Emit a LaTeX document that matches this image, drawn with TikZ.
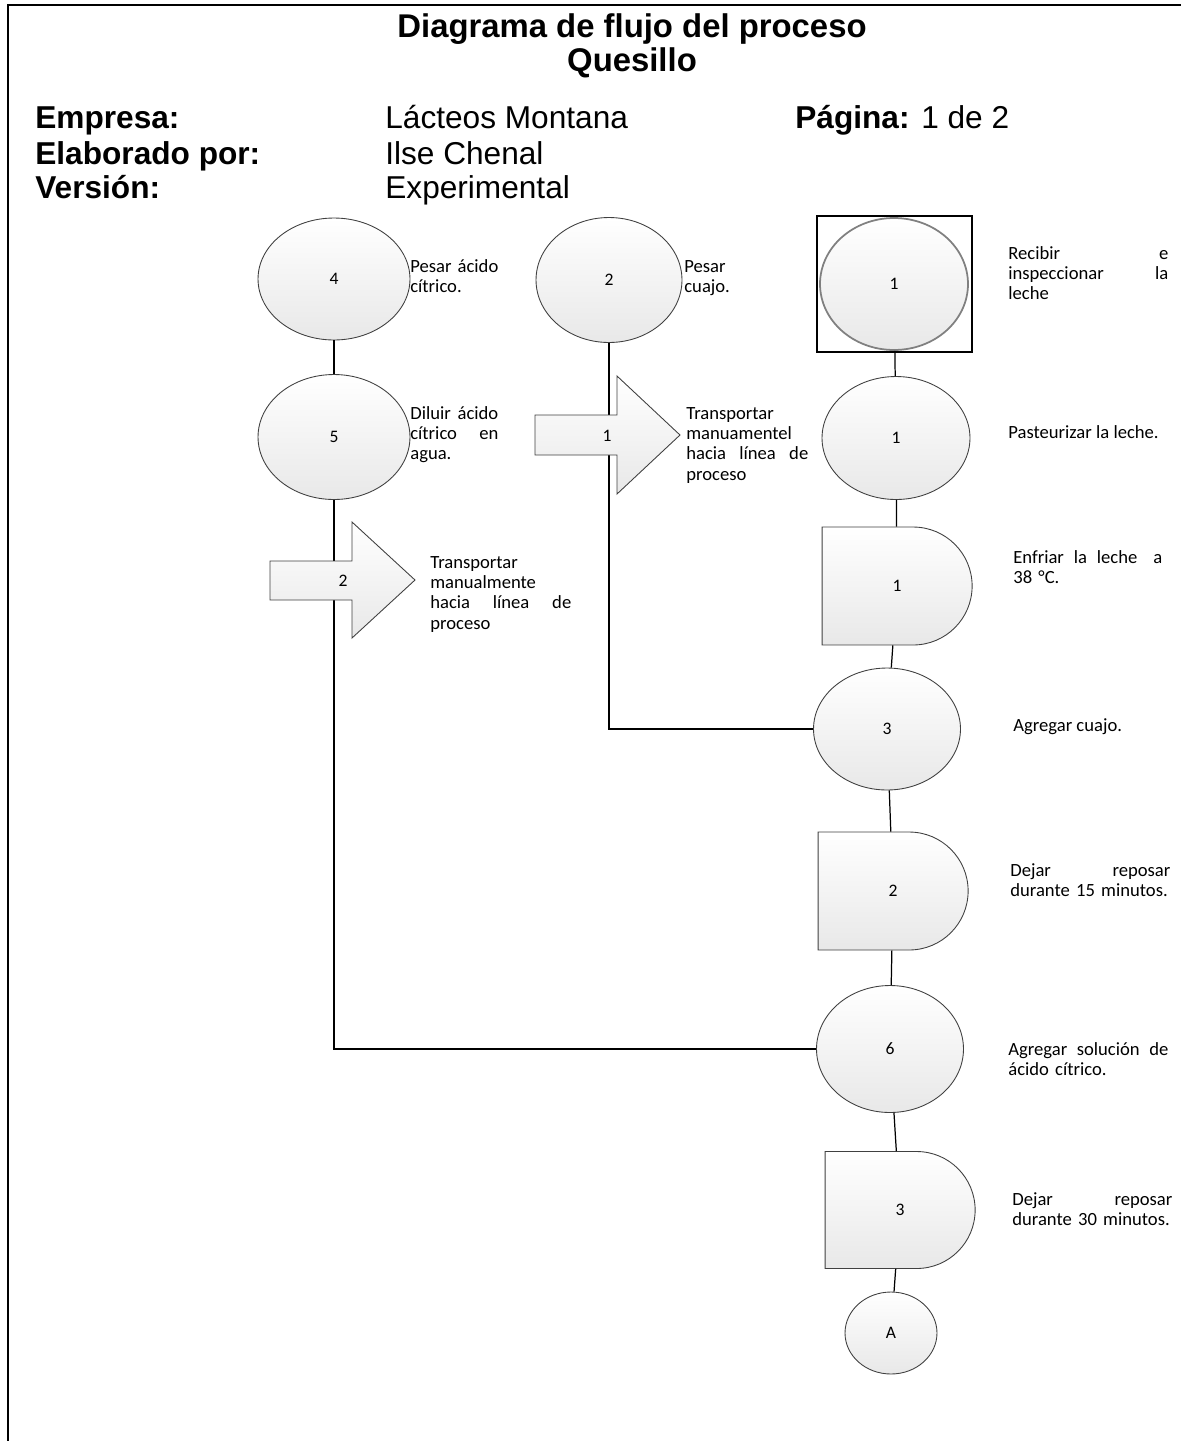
\documentclass[tikz,border=0pt]{standalone}
\usepackage{fontspec}
\setmainfont{Carlito}
\newfontfamily\hdrfont{Liberation Sans}
\usetikzlibrary{shapes.geometric,shapes.misc}
\newcommand{\jl}[1]{\leavevmode\hbox to \hsize{#1}}
\hyphenpenalty=10000

\begin{document}
\begin{tikzpicture}[x=0.02cm,y=-0.02cm,
  hdr/.style={anchor=base west,inner sep=0pt,font=\hdrfont\fontsize{18}{20}\selectfont},
  lbl/.style={anchor=base west,inner sep=0pt,align=left,font=\fontsize{10.6}{11.6}\selectfont},
  opbox/.style={ellipse,draw=black!75,line width=0.5pt,top color=white,bottom color=black!9,
    inner sep=0pt,font=\fontsize{10}{12}\selectfont},
  waitbox/.style={rounded rectangle,rounded rectangle left arc=none,draw=black!75,line width=0.5pt,
    top color=white,bottom color=black!9,inner sep=0pt,minimum width=3cm,minimum height=2.36cm,
    font=\fontsize{10}{12}\selectfont},
  movebox/.style={draw=black!75,line width=0.5pt,top color=white,bottom color=black!9},
  link/.style={draw=black,line width=0.7pt}]

  \useasboundingbox (0,0) rectangle (1181,1441);
  \draw [line width=1.3pt] (8,1441) -- (8,5) -- (1181,5);

  % encabezado
  \node (title) at (632,37) [hdr,anchor=base,font=\hdrfont\fontsize{18.7}{20}\selectfont] {\bfseries Diagrama de flujo del proceso};
  \node (subtitle) at (632,71) [hdr,anchor=base,font=\hdrfont\fontsize{18.7}{20}\selectfont] {\bfseries Quesillo};
  \node (empK) at (35,128) [hdr] {\bfseries Empresa:};
  \node (empV) at (385,128) [hdr] {Lácteos Montana};
  \node (pagK) at (795,128) [hdr] {\textbf{Página:} 1 de 2};
  \node (elaK) at (35,164) [hdr] {\bfseries Elaborado por:};
  \node (elaV) at (385,164) [hdr] {Ilse Chenal};
  \node (verK) at (35,198) [hdr] {\bfseries Versión:};
  \node (verV) at (385,198) [hdr] {Experimental};

  % simbolos
  \node (o4) at (334,279) [opbox,minimum width=3.04cm,minimum height=2.44cm] {4};
  \node (o5) at (334,437) [opbox,minimum width=3.04cm,minimum height=2.5cm] {5};
  \node (o2) at (609,280) [opbox,minimum width=2.92cm,minimum height=2.5cm] {2};
  \node (sq1) at (894.5,284) [draw,line width=0.6pt,minimum width=3.1cm,minimum height=2.72cm] {};
  \node (i1) at (894,284) [opbox,draw=black!50,line width=1pt,minimum width=2.96cm,minimum height=2.64cm] {1};
  \node (o1) at (896,438) [opbox,minimum width=2.96cm,minimum height=2.46cm] {1};
  \node (d1) at (897,586) [waitbox] {1};
  \node (o3) at (887,729) [opbox,minimum width=2.94cm,minimum height=2.44cm] {3};
  \node (d2) at (893,891) [waitbox] {2};
  \node (o6) at (890,1049) [opbox,minimum width=2.94cm,minimum height=2.54cm] {6};
  \node (d3) at (900,1210) [waitbox,minimum height=2.34cm] {3};
  \node (cA) at (891,1333) [opbox,minimum width=1.84cm,minimum height=1.64cm] {A};

  \draw [link] (o4) -- (o5);
  \draw [link] (o5.south) |- (o6.west);
  \draw [link] (o2.south) |- (o3.west);
  \draw [link] (i1) -- (o1);
  \draw [link] (o1) -- (d1);
  \draw [link] (d1) -- (o3);
  \draw [link] (o3) -- (d2);
  \draw [link] (d2) -- (o6);
  \draw [link] (o6) -- (d3);
  \draw [link] (d3) -- (cA);

  % transportes
  \draw [movebox] (535,415) -- (617,415) -- (617,376) -- (680,435) -- (617,494) -- (617,455) -- (535,455) -- cycle;
  \node (m1) at (607,436) [font=\fontsize{10}{12}\selectfont] {1};
  \draw [movebox] (270,561) -- (352,561) -- (352,522) -- (415,580) -- (352,638) -- (352,600) -- (270,600) -- cycle;
  \node (m2) at (343,581) [font=\fontsize{10}{12}\selectfont] {2};

  % descripciones
  \node (t4) at (410,272) [lbl,text width=1.76cm] {\jl{Pesar\hfill ácido}\\ cítrico.};
  \node (t2) at (684,272) [lbl,text width=1.5cm] {Pesar\\ cuajo.};
  \node (ti1) at (1008,259) [lbl,text width=3.2cm] {\jl{Recibir\hfill e}\\ \jl{inspeccionar\hfill la}\\ leche};
  \node (t5) at (410,419) [lbl,text width=1.76cm] {\jl{Diluir\hfill ácido}\\ \jl{cítrico\hfill en}\\ agua.};
  \node (tm1) at (686,419) [lbl,text width=2.44cm] {Transportar\\ manuamentel\\ \jl{hacia\hfill línea\hfill de}\\ proceso};
  \node (to1) at (1008,438) [lbl] {Pasteurizar la leche.};
  \node (tm2) at (430,568) [lbl,text width=2.82cm] {Transportar\\ manualmente\\ \jl{hacia\hfill línea\hfill de}\\ proceso};
  \node (td1) at (1013,563) [lbl,text width=2.98cm] {\jl{Enfriar\hfill la\hfill leche\hfill\ a}\\ 38 °C.};
  \node (to3) at (1013,731) [lbl] {Agregar cuajo.};
  \node (td2) at (1010,876) [lbl,text width=3.2cm] {\jl{Dejar\hfill reposar}\\ durante 15 minutos.};
  \node (to6) at (1008,1055) [lbl,text width=3.2cm] {\jl{Agregar\hfill solución\hfill de}\\ ácido cítrico.};
  \node (td3) at (1012,1205) [lbl,text width=3.2cm] {\jl{Dejar\hfill reposar}\\ durante 30 minutos.};
%
\end{tikzpicture}
\end{document}
